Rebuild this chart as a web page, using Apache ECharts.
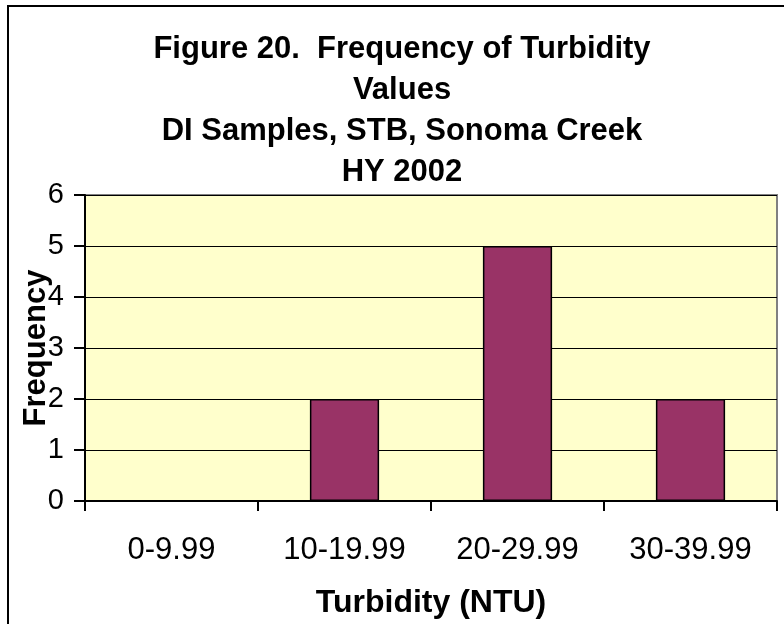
<!DOCTYPE html>
<html>
<head>
<meta charset="utf-8">
<script src="https://cdn.jsdelivr.net/npm/echarts@6/dist/echarts.min.js"></script>
<style>
  html, body { margin: 0; padding: 0; background: #fff; }
  #chart { width: 784px; height: 624px; }
</style>
</head>
<body>
<div id="chart"></div>
<script>
// turbidity classes and how many samples fell in each
const categories = ['0-9.99', '10-19.99', '20-29.99', '30-39.99']
const frequency = [0, 2, 5, 2]
const titleLines = [
  'Figure 20.  Frequency of Turbidity',
  'Values',
  'DI Samples, STB, Sonoma Creek',
  'HY 2002'
]

const font = 'Liberation Sans, Arial, sans-serif'
const chart = echarts.init(document.getElementById('chart'))

chart.setOption({
  animation: false,
  backgroundColor: '#fff',
  textStyle: { fontFamily: font },
  title: {
    text: titleLines.join('\n'),
    left: 402,
    textAlign: 'center',
    top: 29,
    padding: 0,
    textStyle: {
      fontFamily: font,
      fontSize: 31,
      fontWeight: 'bold',
      color: '#000',
      lineHeight: 41
    }
  },
  // outer chart border, cut off on the right and bottom like the scan
  graphic: [{
    type: 'rect',
    shape: { x: 8, y: 6, width: 820, height: 660 },
    style: { fill: 'none', stroke: '#000', lineWidth: 2 },
    silent: true
  }],
  grid: {
    left: 85,
    top: 195,
    width: 692,
    height: 306,
    show: true,
    backgroundColor: '#FFFFCC',
    borderColor: '#808080',
    borderWidth: 2
  },
  xAxis: {
    type: 'category',
    data: categories,
    name: 'Turbidity (NTU)',
    nameLocation: 'middle',
    nameGap: 86,
    nameMoveOverlap: false,
    nameTextStyle: { fontFamily: font, fontSize: 32, fontWeight: 'bold', color: '#000' },
    axisLine: { lineStyle: { color: '#000', width: 2 } },
    axisTick: { show: true, length: 10, interval: 0, lineStyle: { color: '#000', width: 2 } },
    axisLabel: { fontFamily: font, fontSize: 31, color: '#000', margin: 34, interval: 0 },
    splitLine: { show: false }
  },
  yAxis: {
    type: 'value',
    min: 0,
    max: 6,
    interval: 1,
    name: 'Frequency',
    nameLocation: 'middle',
    nameGap: 33,
    nameMoveOverlap: false,
    nameTextStyle: { fontFamily: font, fontSize: 31, fontWeight: 'bold', color: '#000' },
    axisLine: { show: true, lineStyle: { color: '#000', width: 2 } },
    axisTick: { show: true, length: 11, lineStyle: { color: '#000', width: 2 } },
    axisLabel: { fontFamily: font, fontSize: 29, color: '#000', margin: 21 },
    splitLine: { show: true, lineStyle: { color: '#000', width: 1 } }
  },
  series: [{
    type: 'bar',
    data: frequency,
    barWidth: '40%',
    itemStyle: { color: '#993366', borderColor: '#000', borderWidth: 1.5 }
  }]
})
</script>
</body>
</html>
